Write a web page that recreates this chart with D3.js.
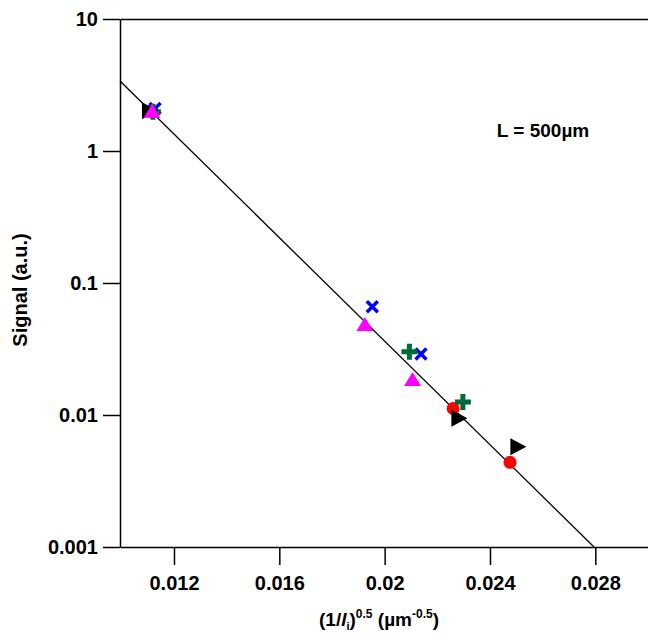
<!DOCTYPE html>
<html>
<head>
<meta charset="utf-8">
<script src="https://cdn.jsdelivr.net/npm/d3@7"></script>
<style>
  body { margin: 0; background: #fff; }
  text { font-family: "Liberation Sans", Arial, sans-serif; font-weight: bold; }
</style>
</head>
<body>
<svg width="648" height="633"></svg>
<script>
// tick values
var xTicks = [0.012, 0.016, 0.02, 0.024, 0.028];
var yTicks = [0.001, 0.01, 0.1, 1, 10];

// measured points, one pair of arrays per series: x = (1/li)^0.5, y = signal
var redX = [0.0111, 0.0226, 0.02476];
var redY = [2.0, 0.0112, 0.00438];
var greenX = [0.0112, 0.02094, 0.02297];
var greenY = [1.98, 0.0302, 0.01255];
var blueX = [0.01128, 0.01953, 0.02138];
var blueY = [2.1, 0.066, 0.029];
var blackX = [0.01105, 0.0228, 0.02504];
var blackY = [2.02, 0.00944, 0.00575];
var magentaX = [0.01117, 0.01925, 0.02106];
var magentaY = [1.98, 0.048, 0.0184];

// fitted line end points
var fitX = [0.00995, 0.02795];
var fitY = [3.39, 0.001];

var svg = d3.select("svg");
var mLeft = 120, mRight = 648, mTop = 19, mBottom = 547;

var x = d3.scaleLinear()
    .domain([0.00995, 0.03])
    .range([mLeft, mRight]);

var y = d3.scaleLog()
    .domain([0.001, 10])
    .range([mBottom, mTop]);

// top border
svg.append("g")
    .attr("transform", "translate(0," + mTop + ")")
    .call(d3.axisTop(x).tickValues([]).tickSizeOuter(0))
    .select(".domain").attr("stroke-width", 1.5);

// bottom axis
var gx = svg.append("g")
    .attr("transform", "translate(0," + mBottom + ")")
    .call(d3.axisBottom(x).tickValues(xTicks).tickSize(18).tickSizeOuter(0)
        .tickFormat(function(d) { return String(+d.toFixed(3)); }));
gx.select(".domain").attr("stroke-width", 1.5);
gx.selectAll(".tick line").attr("stroke-width", 1.5);
gx.selectAll(".tick text").attr("y", 29).attr("dy", "0.71em")
    .attr("font-size", 20).attr("font-family", null);

// left axis
var gy = svg.append("g")
    .attr("transform", "translate(" + mLeft + ",0)")
    .call(d3.axisLeft(y).tickValues(yTicks).tickSize(17).tickSizeOuter(0)
        .tickFormat(function(d) { return String(d); }));
gy.select(".domain").attr("stroke-width", 1.5);
gy.selectAll(".tick line").attr("stroke-width", 1.5);
gy.selectAll(".tick text").attr("x", -22)
    .attr("font-size", 20).attr("font-family", null);

// fit line
svg.append("path")
    .datum(d3.zip(fitX, fitY))
    .attr("fill", "none")
    .attr("stroke", "#000")
    .attr("stroke-width", 1.3)
    .attr("d", d3.line().x(function(d) { return x(d[0]); }).y(function(d) { return y(d[1]); }));

function pts(xs, ys) { return d3.zip(xs, ys); }
function pos(d) { return "translate(" + x(d[0]) + "," + y(d[1]) + ")"; }

// red circles
svg.append("g").selectAll("circle")
    .data(pts(redX, redY)).enter().append("circle")
    .attr("cx", function(d) { return x(d[0]); })
    .attr("cy", function(d) { return y(d[1]); })
    .attr("r", 6.5)
    .attr("fill", "#ff0000");

// blue crosses
svg.append("g").selectAll("path")
    .data(pts(blueX, blueY)).enter().append("path")
    .attr("transform", pos)
    .attr("d", "M-5.5,-5.5L5.5,5.5M-5.5,5.5L5.5,-5.5")
    .attr("stroke", "#0000ff")
    .attr("stroke-width", 3.5)
    .attr("fill", "none");

// green plus
svg.append("g").selectAll("path")
    .data(pts(greenX, greenY)).enter().append("path")
    .attr("transform", pos)
    .attr("d", "M-8,0H8M0,-8V8")
    .attr("stroke", "#006b35")
    .attr("stroke-width", 5)
    .attr("fill", "none");

// black right triangles
svg.append("g").selectAll("path")
    .data(pts(blackX, blackY)).enter().append("path")
    .attr("transform", pos)
    .attr("d", "M-7,-8.5L9,0L-7,8.5Z")
    .attr("fill", "#000");

// magenta up triangles
svg.append("g").selectAll("path")
    .data(pts(magentaX, magentaY)).enter().append("path")
    .attr("transform", pos)
    .attr("d", "M0,-8L8.5,6L-8.5,6Z")
    .attr("fill", "#ff00ff");

// annotation
svg.append("text")
    .attr("x", 543).attr("y", 137)
    .attr("text-anchor", "middle")
    .attr("font-size", 19)
    .text("L = 500\u00b5m");

// axis titles
var xt = svg.append("text")
    .attr("x", 379).attr("y", 626)
    .attr("text-anchor", "middle")
    .attr("font-size", 19);
xt.append("tspan").text("(1/");
xt.append("tspan").attr("font-style", "italic").text("l");
xt.append("tspan").attr("font-size", 11).attr("dy", 4).text("i");
xt.append("tspan").attr("dy", -4).text(")");
xt.append("tspan").attr("font-size", 12).attr("dy", -8).text("0.5");
xt.append("tspan").attr("dy", 8).text(" (\u00b5m");
xt.append("tspan").attr("font-size", 12).attr("dy", -8).text("-0.5");
xt.append("tspan").attr("dy", 8).text(")");

svg.append("text")
    .attr("transform", "translate(27,290) rotate(-90)")
    .attr("text-anchor", "middle")
    .attr("font-size", 20)
    .text("Signal (a.u.)");
</script>
</body>
</html>
